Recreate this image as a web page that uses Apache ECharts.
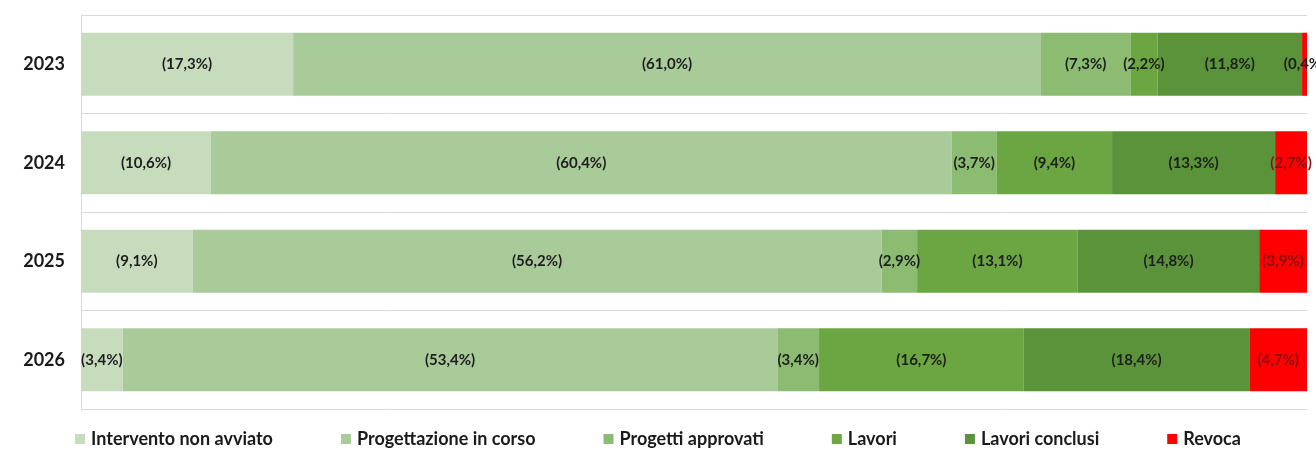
<!DOCTYPE html>
<html>
<head>
<meta charset="utf-8">
<script src="https://cdn.jsdelivr.net/npm/echarts@6/dist/echarts.min.js"></script>
<style>
  html, body { margin: 0; padding: 0; background: #ffffff; }
  #chart { width: 1316px; height: 453px; }
</style>
</head>
<body>
<div id="chart"></div>
<script>
// Anni (categorie) e quote percentuali per stato di avanzamento
const years = ['2023', '2024', '2025', '2026'];
const interventoNonAvviato = [17.3, 10.6, 9.1, 3.4];
const progettazioneInCorso = [61.0, 60.4, 56.2, 53.4];
const progettiApprovati = [7.3, 3.7, 2.9, 3.4];
const lavori = [2.2, 9.4, 13.1, 16.7];
const lavoriConclusi = [11.8, 13.3, 14.8, 18.4];
const revoca = [0.4, 2.7, 3.9, 4.7];

const seriesNames = ['Intervento non avviato', 'Progettazione in corso', 'Progetti approvati', 'Lavori', 'Lavori conclusi', 'Revoca'];
const seriesData = [interventoNonAvviato, progettazioneInCorso, progettiApprovati, lavori, lavoriConclusi, revoca];
const seriesColors = ['#c6dcbd', '#a9ca99', '#8cbb72', '#6ba642', '#5b933a', '#fe0000'];
const labelColors = ['#1e1e1e', '#1e1e1e', '#1e1e1e', '#1e1e1e', '#1e1e1e', '#8a1010'];

const FONT = 'Lato, "Open Sans", sans-serif';

function fmt(v) {
  return '(' + v.toFixed(1).replace('.', ',') + '%)';
}

const chart = echarts.init(document.getElementById('chart'), null, { renderer: 'canvas' });

chart.setOption({
  animation: false,
  backgroundColor: '#ffffff',
  grid: { left: 81, right: 9, top: 15, bottom: 44, containLabel: false },
  legend: {
    bottom: 0,
    left: 'center',
    itemWidth: 10,
    itemHeight: 10,
    itemGap: 68,
    icon: 'rect',
    textStyle: { fontFamily: FONT, fontSize: 18, fontWeight: 'bold', color: '#1a1a1a', padding: [0, 0, 0, 1] },
    data: seriesNames
  },
  xAxis: {
    type: 'value',
    min: 0,
    max: 100,
    axisLine: { show: false },
    axisTick: { show: false },
    axisLabel: { show: false },
    splitLine: { show: false }
  },
  yAxis: {
    type: 'category',
    inverse: true,
    data: years,
    axisLine: { show: true, lineStyle: { color: '#d9d9d9', width: 1 } },
    axisTick: { show: false },
    axisLabel: { fontFamily: FONT, fontSize: 18, fontWeight: 'bold', color: '#1a1a1a', margin: 16 },
    splitLine: { show: true, lineStyle: { color: '#d9d9d9', width: 1 } }
  },
  series: seriesNames.map((name, i) => ({
    name: name,
    type: 'bar',
    stack: 'totale',
    barWidth: '64%',
    clip: true,
    itemStyle: { color: seriesColors[i] },
    label: {
      show: true,
      position: 'inside',
      formatter: p => fmt(p.value),
      fontFamily: FONT,
      fontSize: 15,
      fontWeight: 'bold',
      color: labelColors[i]
    },
    // very thin segments let their label spill onto the white background: keep it dark there
    data: seriesData[i].map(v => (v < 1 ? { value: v, label: { color: '#1e1e1e' } } : v))
  }))
});
</script>
</body>
</html>
